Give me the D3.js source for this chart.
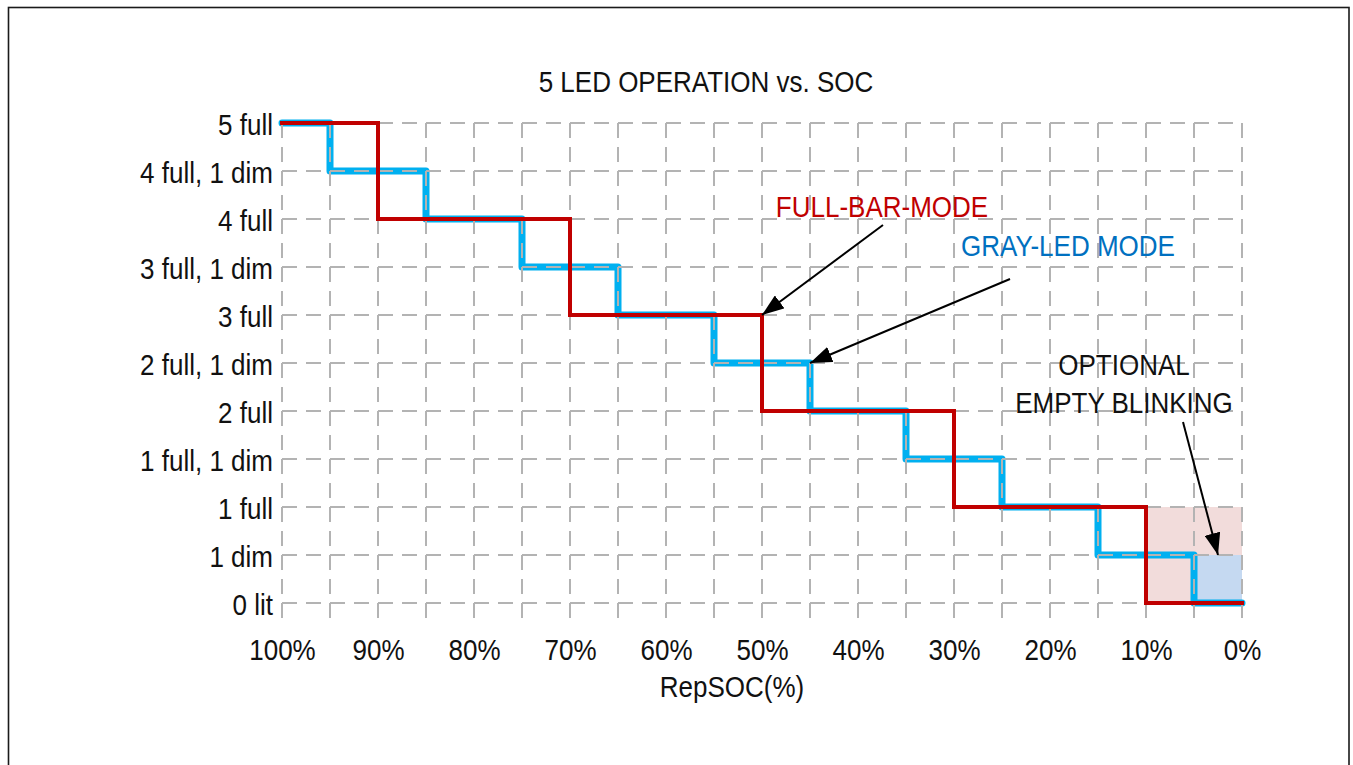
<!DOCTYPE html>
<html>
<head>
<meta charset="utf-8">
<script src="https://cdn.jsdelivr.net/npm/d3@7/dist/d3.min.js"></script>
<style>
  html, body { margin: 0; padding: 0; background: #fff; }
  svg text { font-family: "Liberation Sans", Arial, Helvetica, sans-serif; }
</style>
</head>
<body>
<svg id="chart" width="1353" height="765"></svg>
<script>
// ---- data ----
const title = "5 LED OPERATION vs. SOC";
const xAxisTitle = "RepSOC(%)";
const levelLabels = ["0 lit", "1 dim", "1 full", "1 full, 1 dim", "2 full", "2 full, 1 dim",
                     "3 full", "3 full, 1 dim", "4 full", "4 full, 1 dim", "5 full"];
const xTickValues = [100, 90, 80, 70, 60, 50, 40, 30, 20, 10, 0];
const xGridValues = [100, 95, 90, 85, 80, 75, 70, 65, 60, 55, 50, 45, 40, 35, 30, 25, 20, 15, 10, 5, 0];
// Full-bar mode (red) breakpoints
const fullBarSOC   = [100, 90, 70, 50, 30, 10, 0];
const fullBarLevel = [10, 8, 6, 4, 2, 0, 0];
// Gray-LED mode (blue) breakpoints
const grayLedSOC   = [100, 95, 85, 75, 65, 55, 45, 35, 25, 15, 5, 0];
const grayLedLevel = [10, 9, 8, 7, 6, 5, 4, 3, 2, 1, 0, 0];
// Optional empty-blinking shaded zones: [socFrom, socTo, levelFrom, levelTo]
const blinkFullBar = [10, 0, 0, 2];
const blinkGrayLed = [5, 0, 0, 1];

// ---- layout ----
const SY = 1.1; // vertical stretch of the lettering
const svg = d3.select("#chart");
const x = d3.scaleLinear().domain([100, 0]).range([282, 1242]);
const y = d3.scaleLinear().domain([0, 10]).range([603, 123]);

function label(px, py, str, color, anchor) {
  return svg.append("text")
    .attr("transform", `translate(${px},${py}) scale(1,${SY})`)
    .attr("text-anchor", anchor || "middle")
    .attr("font-size", 26).attr("fill", color || "#111").text(str);
}

// border
svg.append("rect").attr("x", 8.5).attr("y", 7.5).attr("width", 1340.5).attr("height", 800)
  .attr("fill", "none").attr("stroke", "#1a1a1a").attr("stroke-width", 1.6);

// title
label(706, 92, title);

// shaded zones
function zone(z, color) {
  svg.append("rect")
    .attr("x", x(z[0])).attr("y", y(z[3]))
    .attr("width", x(z[1]) - x(z[0])).attr("height", y(z[2]) - y(z[3]))
    .attr("fill", color);
}
zone(blinkFullBar, "#f2dcdb");
zone(blinkGrayLed, "#c5d9f1");

// blue line (under grid)
const stepLine = d3.line().x(d => x(d[0])).y(d => y(d[1])).curve(d3.curveStepAfter);
svg.append("path")
  .datum(grayLedSOC.map((s, i) => [s, grayLedLevel[i]]))
  .attr("d", stepLine)
  .attr("fill", "none").attr("stroke", "#00b0f0").attr("stroke-width", 7)
  .attr("stroke-linejoin", "round").attr("stroke-linecap", "round");

// grid
const grid = svg.append("g").attr("stroke", "#b3b3b3").attr("stroke-width", 2)
  .attr("stroke-dasharray", "15,9").attr("fill", "none");
d3.range(0, 11).forEach(l => {
  grid.append("line").attr("x1", x(100)).attr("x2", x(0))
    .attr("y1", y(l)).attr("y2", y(l));
});
xGridValues.forEach(v => {
  grid.append("line").attr("x1", x(v)).attr("x2", x(v))
    .attr("y1", y(10)).attr("y2", y(0) + 15);
});

// red line
svg.append("path")
  .datum(fullBarSOC.map((s, i) => [s, fullBarLevel[i]]))
  .attr("d", stepLine)
  .attr("fill", "none").attr("stroke", "#c00000").attr("stroke-width", 4)
  .attr("stroke-linejoin", "miter").attr("stroke-linecap", "square");

// y labels
const yAxis = d3.axisLeft(y).tickValues(d3.range(0, 11)).tickFormat(d => levelLabels[d]).tickSize(0).tickPadding(9);
const yg = svg.append("g").attr("transform", "translate(282,0)").call(yAxis);
yg.select(".domain").remove();
yg.selectAll("text").attr("font-size", 26).attr("fill", "#111")
  .attr("font-family", "'Liberation Sans', Arial, sans-serif")
  .attr("x", 0).attr("dy", null).attr("y", 0)
  .attr("transform", `translate(-9,11.5) scale(1,${SY})`);

// x labels
const xAxis = d3.axisBottom(x).tickValues(xTickValues).tickFormat(d => d + "%").tickSize(0).tickPadding(0);
const xg = svg.append("g").attr("transform", "translate(0,0)").call(xAxis);
xg.select(".domain").remove();
xg.selectAll("text").attr("font-size", 26).attr("fill", "#111")
  .attr("font-family", "'Liberation Sans', Arial, sans-serif")
  .attr("y", 0).attr("dy", null)
  .attr("transform", `translate(0,660) scale(1,${SY})`);

label(732, 697, xAxisTitle);

// annotations
const defs = svg.append("defs");
defs.append("marker").attr("id", "arrow").attr("viewBox", "0 0 22 16")
  .attr("refX", 22).attr("refY", 8).attr("markerWidth", 22).attr("markerHeight", 16)
  .attr("markerUnits", "userSpaceOnUse").attr("orient", "auto")
  .append("path").attr("d", "M0,0 L22,8 L0,16 Z").attr("fill", "#000");

function arrow(x1, y1, x2, y2) {
  svg.append("line").attr("x1", x1).attr("y1", y1).attr("x2", x2).attr("y2", y2)
    .attr("stroke", "#000").attr("stroke-width", 2).attr("marker-end", "url(#arrow)");
}
label(882, 217, "FULL-BAR-MODE", "#c00000");
arrow(883, 225, x(50), y(6));
label(1068, 256, "GRAY-LED MODE", "#0070c0");
arrow(1010, 279, x(45), y(5));
label(1124, 375, "OPTIONAL");
label(1124, 413, "EMPTY BLINKING");
arrow(1183, 422, 1218, y(1));
</script>
</body>
</html>
